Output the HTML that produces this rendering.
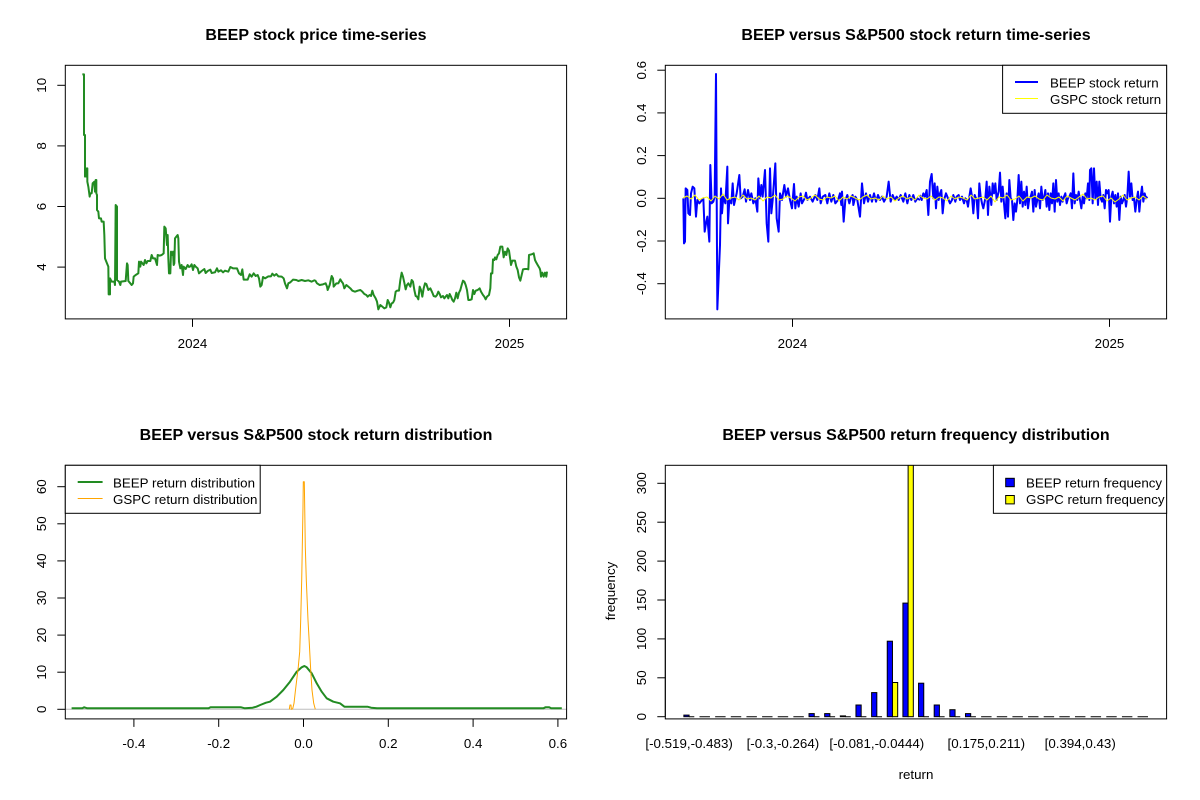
<!DOCTYPE html>
<html><head><meta charset="utf-8"><style>
html,body{margin:0;padding:0;background:#fff;}
svg{display:block;}
text{font-family:"Liberation Sans",Arial,sans-serif;fill:#000;}
.t{font-size:16px;font-weight:bold;text-anchor:middle;}
.a{font-size:13.33px;text-anchor:middle;}
.l{font-size:13.33px;}
</style></head><body>
<svg width="1200" height="800" viewBox="0 0 1200 800" xmlns="http://www.w3.org/2000/svg">
<rect x="0" y="0" width="1200" height="800" fill="#fff"/>
<defs>
<clipPath id="c1"><rect x="65.3" y="65.3" width="501.3" height="253.6"/></clipPath>
<clipPath id="c2"><rect x="665.3" y="65.3" width="501.3" height="253.6"/></clipPath>
<clipPath id="c3"><rect x="65.3" y="465.3" width="501.3" height="253.6"/></clipPath>
<clipPath id="c4"><rect x="665.3" y="465.3" width="501.3" height="253.6"/></clipPath>
</defs>

<!-- ============ PANEL 1 ============ -->
<text class="t" x="316" y="40">BEEP stock price time-series</text>
<g clip-path="url(#c1)" fill="none" stroke="#228B22" stroke-width="2" stroke-linejoin="round">
<g transform="translate(65,65) scale(0.33333)">
<polyline vector-effect="non-scaling-stroke" points="52,28 57,28 57,210 60,210 60,335 63,310 65,335 67,310 67,350 70,365 72,380 74,395 76,385 80,385 83,355 88,350 90,380 92,345 94,345 94,385 96,390 96,435 100,440 102,460 108,460 110,470 116,470 118,510 120,580 126,595 130,605 131,688 135,688 135,640 140,650 148,650 150,660 152,420 156,425 156,645 162,650 166,660 168,650 182,648 186,595 188,600 190,648 196,655 200,660 204,655 206,635 212,630 220,625 222,590 226,605 228,590 236,600 240,585 244,595 248,588 256,588 260,570 264,580 270,580 276,600 278,570 284,572 290,570 296,565 298,485 302,490 306,540 308,510 310,580 312,625 316,625 318,560 322,570 324,560 326,600 328,595 330,520 334,515 338,510 340,520 342,590 346,610 350,600 354,630 356,605 362,612 368,600 372,606 376,604 380,598 384,615 388,600 392,605 398,610 402,625 410,618 418,612 422,624 428,618 436,614 440,624 450,622 456,610 460,620 468,616 474,622 480,617 490,620 496,606 504,610 516,610 522,625 528,630 532,613 536,644 548,644 554,628 560,635 566,625 572,633 578,630 582,640 586,665 590,660 594,636 600,640 610,634 618,634 622,626 628,632 634,627 640,634 650,635 656,640 660,655 666,670 670,655 676,652 684,644 694,645 700,648 710,645 720,648 730,646 740,650 750,645"/>
</g>
<g transform="translate(315,220) scale(0.33333)">
<polyline vector-effect="non-scaling-stroke" points="0,180 6,190 14,195 24,193 32,190 36,200 38,210 44,195 50,168 54,175 56,200 64,190 70,190 76,178 80,185 84,190 88,205 94,195 100,200 106,205 112,212 120,215 128,212 136,210 142,215 148,222 154,225 158,230 164,225 168,228 172,212 176,225 182,235 186,245 190,268 196,255 202,260 208,265 214,262 218,240 222,248 226,262 230,250 234,248 238,240 242,215 246,212 252,212 256,180 260,158 264,170 268,188 272,208 276,195 280,190 286,200 290,180 294,185 298,210 302,228 306,230 310,238 314,200 318,210 322,230 326,205 330,190 334,192 340,210 346,205 352,218 356,228 362,230 366,225 370,215 374,222 378,232 384,228 388,235 392,230 396,225 400,235 404,222 408,230 412,240 416,245 420,235 424,218 428,235 432,218 436,210 440,195 444,182 448,185 452,195 456,210 460,240 464,240 470,238 474,210 478,222 482,212 488,210 494,205 498,215 504,225 508,230 512,238 516,230 522,225 526,205 528,160 532,160 534,118 538,120 540,112 544,118 548,105 552,100 556,80 562,80 566,112 570,95 574,105 578,85 582,92 586,120 588,135 592,122 600,122 604,140 608,150 612,172 616,182 620,165 624,148 630,147 636,147 640,148 642,105 650,103 656,100 660,120 664,128 668,135 674,145 676,152 678,170 682,158 686,170 690,158 694,170 696,155"/>
</g>
</g>
<rect x="65.3" y="65.3" width="501.3" height="253.6" fill="none" stroke="#000" stroke-width="1"/>
<g stroke="#000" stroke-width="1">
<line x1="192.5" y1="318.9" x2="192.5" y2="326.9"/>
<line x1="509.5" y1="318.9" x2="509.5" y2="326.9"/>
<line x1="57.3" y1="85.3" x2="65.3" y2="85.3"/>
<line x1="57.3" y1="145.9" x2="65.3" y2="145.9"/>
<line x1="57.3" y1="206.5" x2="65.3" y2="206.5"/>
<line x1="57.3" y1="267.1" x2="65.3" y2="267.1"/>
</g>
<text class="a" x="192.5" y="348">2024</text>
<text class="a" x="509.5" y="348">2025</text>
<text class="a" transform="translate(46,85.3) rotate(-90)">10</text>
<text class="a" transform="translate(46,145.9) rotate(-90)">8</text>
<text class="a" transform="translate(46,206.5) rotate(-90)">6</text>
<text class="a" transform="translate(46,267.1) rotate(-90)">4</text>

<!-- ============ PANEL 2 ============ -->
<text class="t" x="916" y="40">BEEP versus S&amp;P500 stock return time-series</text>
<g clip-path="url(#c2)" fill="none" stroke-linejoin="round">
<g stroke="#0000FF" stroke-width="2">
<g transform="translate(670,60) scale(0.33333)">
<polyline vector-effect="non-scaling-stroke" points="40,415 42,550 45,545 47,385 52,390 55,460 60,465 63,400 68,380 73,385 78,470 82,420 88,430 96,420 100,415 104,515 108,490 112,470 118,545 121,315 125,430 130,425 134,410 138,42 142,748 146,650 150,555 153,385 156,460 160,410 166,430 172,320 174,490 178,420 184,430 188,370 192,435 200,400 208,345 212,415 218,410 224,388 228,425 234,390 240,420 244,400 250,430 256,415 262,455 265,355 270,415 274,375 278,410 285,330 290,490 295,545 300,325 304,460 308,420 316,310 320,475 326,515 330,400 336,420 343,375 348,410 354,385 360,420 366,445 372,372 376,445 380,410 386,440 392,400 396,430 404,415 408,398 412,420 420,410 428,425 436,405 442,420 448,385 452,430 458,410 466,405 472,430 478,400 484,425 490,405 496,430 504,420 510,400 514,435 516,395 521,485 526,420 532,405 538,430 544,410 548,405 550,435 556,410 562,420 570,470 576,370 582,430 588,400 594,425 600,405 606,425 612,400 618,425 624,405 630,420 636,410 642,425 650,410 656,365 662,425 668,405 674,420 680,410 686,420 692,405 700,425 706,400 712,430 718,405 724,420 730,405 736,425 742,415 750,420"/>
</g>
<g transform="translate(920,150) scale(0.33333)">
<polyline vector-effect="non-scaling-stroke" points="0,135 5,150 10,130 15,140 20,120 25,195 30,95 35,72 40,145 44,100 48,175 52,110 56,150 60,130 64,120 68,190 72,150 78,130 84,145 90,160 96,150 100,135 106,155 110,140 116,135 120,150 126,140 132,160 136,145 140,150 144,170 148,140 152,115 156,140 160,190 164,135 170,150 174,205 178,100 182,140 186,160 190,175 196,145 200,95 204,195 208,110 214,165 218,100 222,130 226,100 230,150 236,125 240,68 244,155 248,110 252,160 256,205 260,130 264,200 268,90 272,145 276,150 280,210 284,160 288,185 292,150 296,75 300,160 304,95 308,170 312,125 316,165 320,110 324,175 328,145 332,140 336,125 340,185 344,120 348,170 352,150 356,130 360,175 364,110 368,150 372,145 376,120 380,170 384,130 388,180 392,130 396,160 400,100 404,185 408,90 412,155 416,130 420,165 424,140 428,155 432,140 436,130 440,160 444,145 448,140 452,130 456,175 460,70 464,160 468,135 472,150 476,125 480,150 484,175 488,140 492,160 496,130 500,145 504,100 508,150 510,60 514,55 518,160 522,55 526,145 530,95 534,165 538,95 542,145 546,155 550,135 554,175 558,120 562,130 566,120 570,215 574,140 578,125 582,160 586,135 590,170 594,130 598,210 602,140 606,160 610,150 614,135 618,170 622,140 626,65 630,140 634,100 638,150 642,145 646,185 650,150 654,125 658,185 662,140 666,110 670,155 674,130 678,145 682,140"/>
</g>
</g>
<polyline stroke="#FFFF00" stroke-width="1" points="683,198 687,196 691,199 695,195 699,200 703,198 707,197 711,201 715,196 719,199 723,194 727,200 731,198 735,197 739,200 743,195 747,199 751,198 755,200 759,196 763,201 767,197 771,198 775,195 779,200 783,199 787,196 791,198 795,201 799,197 803,196 807,200 811,198 815,195 819,199 823,200 827,197 831,198 835,196 839,201 843,197 847,199 851,196 855,198 859,200 863,197 867,195 871,199 875,198 879,200 883,196 887,199 891,197 895,201 899,198 903,196 907,199 911,197 915,200 919,195 923,198 927,199 931,196 935,200 939,197 943,198 947,201 951,196 955,199 959,197 963,198 967,200 971,195 975,199 979,198 983,197 987,200 991,196 995,202 999,197 1003,198 1007,195 1011,200 1015,199 1019,196 1023,201 1027,197 1031,198 1035,196 1039,199 1043,200 1047,195 1051,198 1055,199 1059,197 1063,201 1067,196 1071,198 1075,200 1079,197 1083,194 1087,199 1091,198 1095,200 1099,197 1103,196 1107,201 1111,198 1115,202 1119,199 1123,195 1127,200 1131,198 1135,197 1139,200 1143,196 1147,199"/>
</g>
<rect x="665.3" y="65.3" width="501.3" height="253.6" fill="none" stroke="#000" stroke-width="1"/>
<g stroke="#000" stroke-width="1">
<line x1="792.5" y1="318.9" x2="792.5" y2="326.9"/>
<line x1="1109.5" y1="318.9" x2="1109.5" y2="326.9"/>
<line x1="657.3" y1="283.7" x2="665.3" y2="283.7"/>
<line x1="657.3" y1="241" x2="665.3" y2="241"/>
<line x1="657.3" y1="198.3" x2="665.3" y2="198.3"/>
<line x1="657.3" y1="155.6" x2="665.3" y2="155.6"/>
<line x1="657.3" y1="112.9" x2="665.3" y2="112.9"/>
<line x1="657.3" y1="70.2" x2="665.3" y2="70.2"/>
</g>
<text class="a" x="792.5" y="348">2024</text>
<text class="a" x="1109.5" y="348">2025</text>
<text class="a" transform="translate(646,283.7) rotate(-90)">-0.4</text>
<text class="a" transform="translate(646,241) rotate(-90)">-0.2</text>
<text class="a" transform="translate(646,198.3) rotate(-90)">0.0</text>
<text class="a" transform="translate(646,155.6) rotate(-90)">0.2</text>
<text class="a" transform="translate(646,112.9) rotate(-90)">0.4</text>
<text class="a" transform="translate(646,70.2) rotate(-90)">0.6</text>
<!-- legend -->
<rect x="1002.6" y="65.3" width="164" height="48" fill="#fff" stroke="#000" stroke-width="1"/>
<line x1="1015" y1="82" x2="1038" y2="82" stroke="#0000FF" stroke-width="2"/>
<line x1="1015" y1="98.5" x2="1038" y2="98.5" stroke="#FFFF00" stroke-width="1"/>
<text class="l" x="1050" y="87.5">BEEP stock return</text>
<text class="l" x="1050" y="104">GSPC stock return</text>

<!-- ============ PANEL 3 ============ -->
<text class="t" x="316" y="440">BEEP versus S&amp;P500 stock return distribution</text>
<g clip-path="url(#c3)" fill="none" stroke-linejoin="round">
<line x1="65.3" y1="709.3" x2="566.6" y2="709.3" stroke="#BEBEBE" stroke-width="1"/>
<polyline stroke="#228B22" stroke-width="2" points="71.6,708.3 82.3,708.3 84.2,707.3 87.3,708.3 208.6,708.3 210.5,707.3 241.1,707.3 244.9,708.3 252.6,707.7 256.4,706.7 260.2,705 266,702.7 270,701.7 276.7,696.7 283.3,690 290,681.7 296.7,671.7 301.7,667.3 304.3,666 306.7,667.3 311.7,673.3 316.7,683.3 321.7,691.7 326.7,698.3 333.3,701.7 340,703.3 344.4,706.7 367.4,706.7 371.2,707.7 377,708.3 543.4,708.3 545.4,707.3 549.2,707.3 551.1,708.3 561.8,708.3"/>
<polyline stroke="#FFA500" stroke-width="1" points="289.3,709.3 290,705 291,705 291.3,709.3 292.7,708.7 294,703.3 295.3,691.7 296.7,680 298.3,666.7 299.7,651.7 300.7,620 301.7,580 302.3,546.7 303,506.7 303.3,481.7 304.3,481.7 304.7,506.7 305.3,546.7 306.3,580 308,620 309.3,643.3 310.7,670 312,690 313.7,703.3 315.3,709.3"/>
</g>
<rect x="65.3" y="465.3" width="501.3" height="253.6" fill="none" stroke="#000" stroke-width="1"/>
<g stroke="#000" stroke-width="1">
<line x1="133.9" y1="718.9" x2="133.9" y2="726.9"/>
<line x1="218.7" y1="718.9" x2="218.7" y2="726.9"/>
<line x1="303.5" y1="718.9" x2="303.5" y2="726.9"/>
<line x1="388.3" y1="718.9" x2="388.3" y2="726.9"/>
<line x1="473.1" y1="718.9" x2="473.1" y2="726.9"/>
<line x1="557.9" y1="718.9" x2="557.9" y2="726.9"/>
<line x1="57.3" y1="709.3" x2="65.3" y2="709.3"/>
<line x1="57.3" y1="672.2" x2="65.3" y2="672.2"/>
<line x1="57.3" y1="635.1" x2="65.3" y2="635.1"/>
<line x1="57.3" y1="598" x2="65.3" y2="598"/>
<line x1="57.3" y1="560.9" x2="65.3" y2="560.9"/>
<line x1="57.3" y1="523.8" x2="65.3" y2="523.8"/>
<line x1="57.3" y1="486.7" x2="65.3" y2="486.7"/>
</g>
<text class="a" x="133.9" y="748">-0.4</text>
<text class="a" x="218.7" y="748">-0.2</text>
<text class="a" x="303.5" y="748">0.0</text>
<text class="a" x="388.3" y="748">0.2</text>
<text class="a" x="473.1" y="748">0.4</text>
<text class="a" x="557.9" y="748">0.6</text>
<text class="a" transform="translate(46,709.3) rotate(-90)">0</text>
<text class="a" transform="translate(46,672.2) rotate(-90)">10</text>
<text class="a" transform="translate(46,635.1) rotate(-90)">20</text>
<text class="a" transform="translate(46,598) rotate(-90)">30</text>
<text class="a" transform="translate(46,560.9) rotate(-90)">40</text>
<text class="a" transform="translate(46,523.8) rotate(-90)">50</text>
<text class="a" transform="translate(46,486.7) rotate(-90)">60</text>
<!-- legend -->
<rect x="65.3" y="465.3" width="194.9" height="48" fill="#fff" stroke="#000" stroke-width="1"/>
<line x1="77.7" y1="482" x2="102.6" y2="482" stroke="#228B22" stroke-width="2"/>
<line x1="77.7" y1="498.5" x2="102.6" y2="498.5" stroke="#FFA500" stroke-width="1"/>
<text class="l" x="113" y="487.5">BEEP return distribution</text>
<text class="l" x="113" y="504">GSPC return distribution</text>

<!-- ============ PANEL 4 ============ -->
<text class="t" x="916" y="440">BEEP versus S&amp;P500 return frequency distribution</text>
<g clip-path="url(#c4)" stroke="#000" stroke-width="1">
<!-- zero-height bar lines -->
<g>
<line x1="689.08" y1="716.7" x2="694.3" y2="716.7"/>
<line x1="699.51" y1="716.7" x2="709.94" y2="716.7"/>
<line x1="715.16" y1="716.7" x2="725.59" y2="716.7"/>
<line x1="730.80" y1="716.7" x2="741.23" y2="716.7"/>
<line x1="746.45" y1="716.7" x2="756.88" y2="716.7"/>
<line x1="762.09" y1="716.7" x2="772.52" y2="716.7"/>
<line x1="777.74" y1="716.7" x2="788.17" y2="716.7"/>
<line x1="793.38" y1="716.7" x2="803.81" y2="716.7"/>
<line x1="814.24" y1="716.7" x2="819.46" y2="716.7"/>
<line x1="829.89" y1="716.7" x2="835.1" y2="716.7"/>
<line x1="845.53" y1="716.7" x2="850.75" y2="716.7"/>
<line x1="861.18" y1="716.7" x2="866.4" y2="716.7"/>
<line x1="876.82" y1="716.7" x2="882.04" y2="716.7"/>
<line x1="923.76" y1="716.7" x2="928.98" y2="716.7"/>
<line x1="939.40" y1="716.7" x2="944.62" y2="716.7"/>
<line x1="955.05" y1="716.7" x2="960.27" y2="716.7"/>
<line x1="970.69" y1="716.7" x2="975.91" y2="716.7"/>
<line x1="981.12" y1="716.7" x2="991.55" y2="716.7"/>
<line x1="996.77" y1="716.7" x2="1007.2" y2="716.7"/>
<line x1="1012.41" y1="716.7" x2="1022.84" y2="716.7"/>
<line x1="1028.06" y1="716.7" x2="1038.49" y2="716.7"/>
<line x1="1043.70" y1="716.7" x2="1054.13" y2="716.7"/>
<line x1="1059.35" y1="716.7" x2="1069.78" y2="716.7"/>
<line x1="1074.99" y1="716.7" x2="1085.42" y2="716.7"/>
<line x1="1090.64" y1="716.7" x2="1101.07" y2="716.7"/>
<line x1="1106.28" y1="716.7" x2="1116.71" y2="716.7"/>
<line x1="1121.93" y1="716.7" x2="1132.36" y2="716.7"/>
<line x1="1137.57" y1="716.7" x2="1148" y2="716.7"/>
</g>
<g fill="#0000FF">
<rect x="683.87" y="715.1" width="5.215" height="1.6"/>
<rect x="809.03" y="713.6" width="5.215" height="3.1"/>
<rect x="824.67" y="713.6" width="5.215" height="3.1"/>
<rect x="840.32" y="715.9" width="5.215" height="0.8"/>
<rect x="855.96" y="705.0" width="5.215" height="11.7"/>
<rect x="871.61" y="692.6" width="5.215" height="24.1"/>
<rect x="887.25" y="641.2" width="5.215" height="75.5"/>
<rect x="902.90" y="603.1" width="5.215" height="113.6"/>
<rect x="918.54" y="683.2" width="5.215" height="33.5"/>
<rect x="934.19" y="705.0" width="5.215" height="11.7"/>
<rect x="949.83" y="709.7" width="5.215" height="7.0"/>
<rect x="965.48" y="713.6" width="5.215" height="3.1"/>
</g>
<g fill="#FFFF00">
<rect x="892.47" y="682.5" width="5.215" height="34.2"/>
<rect x="908.11" y="460" width="5.215" height="256.7"/>
</g>
</g>
<rect x="665.3" y="465.3" width="501.3" height="253.6" fill="none" stroke="#000" stroke-width="1"/>
<g stroke="#000" stroke-width="1">
<line x1="665.3" y1="716.7" x2="665.3" y2="483.3"/>
<line x1="657.3" y1="716.7" x2="665.3" y2="716.7"/>
<line x1="657.3" y1="677.8" x2="665.3" y2="677.8"/>
<line x1="657.3" y1="638.9" x2="665.3" y2="638.9"/>
<line x1="657.3" y1="600" x2="665.3" y2="600"/>
<line x1="657.3" y1="561.1" x2="665.3" y2="561.1"/>
<line x1="657.3" y1="522.2" x2="665.3" y2="522.2"/>
<line x1="657.3" y1="483.3" x2="665.3" y2="483.3"/>
</g>
<text class="a" transform="translate(646,716.7) rotate(-90)">0</text>
<text class="a" transform="translate(646,677.8) rotate(-90)">50</text>
<text class="a" transform="translate(646,638.9) rotate(-90)">100</text>
<text class="a" transform="translate(646,600) rotate(-90)">150</text>
<text class="a" transform="translate(646,561.1) rotate(-90)">200</text>
<text class="a" transform="translate(646,522.2) rotate(-90)">250</text>
<text class="a" transform="translate(646,483.3) rotate(-90)">300</text>
<text class="a" transform="translate(615,591) rotate(-90)">frequency</text>
<text class="a" x="916" y="779">return</text>
<text class="a" x="689.1" y="748">[-0.519,-0.483)</text>
<text class="a" x="782.9" y="748">[-0.3,-0.264)</text>
<text class="a" x="876.8" y="748">[-0.081,-0.0444)</text>
<text class="a" x="986.3" y="748">[0.175,0.211)</text>
<text class="a" x="1080.2" y="748">[0.394,0.43)</text>
<!-- legend -->
<rect x="993.4" y="465.3" width="173.2" height="48" fill="#fff" stroke="#000" stroke-width="1"/>
<rect x="1005.7" y="478.3" width="8.6" height="8.4" fill="#0000FF" stroke="#000" stroke-width="1"/>
<rect x="1005.7" y="495.5" width="8.6" height="8.4" fill="#FFFF00" stroke="#000" stroke-width="1"/>
<text class="l" x="1026" y="487.5">BEEP return frequency</text>
<text class="l" x="1026" y="504">GSPC return frequency</text>
</svg>
</body></html>
